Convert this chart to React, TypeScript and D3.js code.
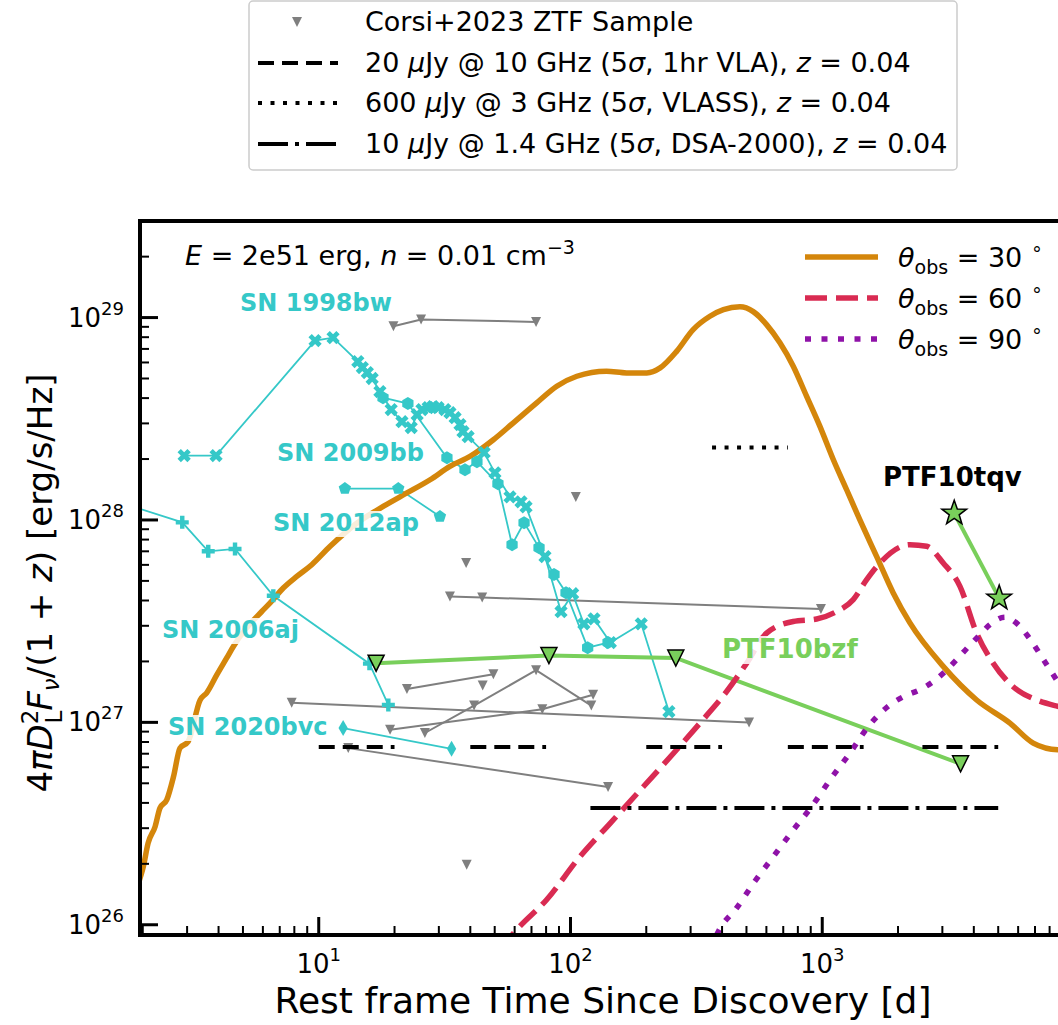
import { useEffect, useRef } from 'react';
import * as d3 from 'd3';

type Pt = [number, number];

const width = 1058;
const height = 1025;

// Corsi+2023 ZTF sample, one array per source: [rest-frame days, L_nu]
const ztfSample: Pt[][] = [
  [[19.8, 9.06e28], [25.5, 9.77e28], [73.0, 9.52e28]],
  [[105, 1.3e28]],
  [[38.5, 6.13e27]],
  [[33.2, 4.19e27], [44.6, 4.14e27], [988, 3.63e27]],
  [[22.4, 1.46e27], [49.4, 1.73e27]],
  [[44.8, 1.52e27]],
  [[26.4, 8.86e26], [41.4, 1.21e27], [73.0, 1.81e27], [121, 1.21e27]],
  [[19.2, 9.19e26], [77.3, 1.16e27], [123, 1.37e27]],
  [[7.81, 1.25e27], [512, 9.99e26]],
  [[13.1, 7.46e26], [141, 4.79e26]],
  [[38.7, 1.98e26]],
];

const sn1998bw: Pt[] = [
  [2.92, 2.08e28], [3.91, 2.08e28], [9.67, 7.7e28], [11.4, 7.96e28], [14.3, 6.06e28],
  [14.9, 5.66e28], [15.6, 5.35e28], [16.3, 5.0e28], [17.5, 4.31e28], [19.4, 3.51e28],
  [21.4, 3.06e28], [23.3, 2.86e28], [24.6, 3.31e28], [25.7, 3.51e28], [27.2, 3.59e28],
  [28.4, 3.63e28], [29.8, 3.59e28], [31.7, 3.51e28], [33.2, 3.39e28], [34.8, 3.2e28],
  [36.4, 2.96e28], [37.4, 2.73e28], [39.2, 2.58e28], [45.4, 2.15e28], [50.1, 1.71e28],
  [57.5, 1.3e28], [63.6, 1.23e28], [66.6, 1.16e28], [79.2, 6.59e27], [91.7, 3.52e27],
  [102, 4.32e27], [113, 3.07e27], [124, 3.25e27], [144, 2.48e27], [191, 3.07e27],
  [246, 1.13e27],
];

const sn2009bb: Pt[] = [
  [18.0, 4.02e28], [22.6, 3.76e28], [32.3, 2.03e28], [38.1, 1.77e28], [42.5, 1.94e28],
  [51.5, 1.51e28], [58.6, 7.55e27], [65.4, 9.7e27], [75.0, 7.3e27], [86.0, 5.37e27],
  [96.0, 4.37e27], [117, 2.34e27], [141, 2.48e27],
];

const sn2012ap: Pt[] = [[12.7, 1.43e28], [20.7, 1.43e28], [30.3, 1.04e28]];

const sn2006aj: Pt[] = [
  [1.41, 1.29e28], [2.87, 9.73e27], [3.64, 7.0e27], [4.65, 7.19e27], [6.6, 4.22e27],
  [15.9, 1.95e27], [18.9, 1.22e27],
];

const sn2020bvc: Pt[] = [[12.5, 9.37e26], [33.7, 7.4e26]];

const ptf10bzf: Pt[] = [[16.9, 1.96e27], [82.1, 2.14e27], [262, 2.08e27], [3544, 6.24e26]];
const ptf10tqv: Pt[] = [[3344, 1.08e28], [5045, 4.11e27]];

// off-axis afterglow models, E = 2e51 erg, n = 0.01 cm^-3
const theta30: Pt[] = [
  [1.91, 1.57e26], [2.01, 1.94e26], [2.1, 2.53e26], [2.24, 3.06e26], [2.34, 3.77e26],
  [2.49, 4.14e26], [2.65, 5.4e26], [2.81, 7.46e26], [3.03, 8.04e26], [3.38, 1.29e27],
  [3.59, 1.4e27], [3.94, 1.72e27], [4.31, 2.08e27], [4.58, 2.37e27], [5.1, 2.87e27],
  [5.94, 3.53e27], [6.41, 3.89e27], [7.23, 4.61e27], [8.18, 5.26e27], [9.38, 6.01e27],
  [11.1, 7.41e27], [14.2, 9.66e27], [18.1, 1.17e28], [22.4, 1.36e28], [27.7, 1.58e28],
  [33.2, 1.84e28], [39.9, 2.06e28], [49.4, 2.49e28], [59.3, 3.02e28], [73.4, 3.79e28],
  [88.2, 4.58e28], [106, 5.13e28], [139, 5.43e28], [167, 5.33e28], [201, 5.33e28],
  [227, 5.64e28], [264, 6.81e28], [307, 8.72e28], [358, 1.015e29], [405, 1.095e29],
  [471, 1.13e29], [532, 1.07e29], [601, 9.23e28], [679, 7.5e28], [767, 5.75e28],
  [867, 4.08e28], [979, 2.9e28], [1106, 1.99e28], [1250, 1.41e28], [1411, 1.0e28],
  [1644, 6.61e27], [1914, 4.36e27], [2230, 3.1e27], [3024, 1.89e27], [4105, 1.29e27],
  [5566, 9.92e26], [6887, 7.9e26], [8630, 7.32e26], [10000, 7.3e26],
];

const theta60: Pt[] = [
  [52.5, 7.5e25], [61.1, 9.44e25], [80.4, 1.33e26], [109, 2.17e26], [144, 3.18e26],
  [195, 4.82e26], [264, 7.32e26], [327, 9.92e26], [417, 1.42e27], [501, 1.96e27],
  [601, 2.76e27], [767, 3.15e27], [950, 3.24e27], [1141, 3.53e27], [1328, 4.04e27],
  [1501, 5.07e27], [1695, 6.13e27], [2230, 7.55e27], [2598, 7.41e27], [3024, 6.13e27],
  [3524, 4.7e27], [4105, 2.76e27], [4777, 1.96e27], [5734, 1.5e27], [7105, 1.29e27],
  [8630, 1.2e27], [10000, 1.15e27],
];

const theta90: Pt[] = [
  [358, 7.5e25], [390, 9.44e25], [457, 1.21e26], [540, 1.64e26], [639, 2.17e26],
  [767, 2.94e26], [908, 3.84e26], [1080, 5.25e26], [1288, 7.05e26], [1523, 9.54e26],
  [1874, 1.23e27], [2130, 1.35e27], [2443, 1.45e27], [2759, 1.59e27], [3071, 1.78e27],
  [3418, 2.04e27], [3766, 2.33e27], [4229, 2.71e27], [4634, 3.04e27], [5317, 3.31e27],
  [6003, 3.04e27], [6640, 2.61e27], [7783, 1.93e27], [8790, 1.53e27],
];

// 5-sigma detection limits at z = 0.04
const vlaLimit = 7.55e26;
const vlaWindows: Pt[] = [[10, 20], [40, 80], [200, 400], [730, 1460], [2500, 5000]];
const vlassLimit = 2.28e28;
const vlassWindow: Pt = [365, 730];
const dsaLimit = 3.77e26;
const dsaWindow: Pt = [120, 5000];

const xMajor = [10, 100, 1000];
const yMajor = [1e26, 1e27, 1e28, 1e29];

const C_ORANGE = '#d4860b';
const C_RED = '#d92b52';
const C_PURPLE = '#8f12a8';
const C_CYAN = '#35c8c8';
const C_GREEN = '#79cf5b';
const C_GRAY = '#7f7f7f';
const FONT = 'DejaVu Sans, sans-serif';

type Marker = 'tri' | 'x' | 'plus' | 'hex' | 'pent' | 'thin' | 'star';

function polygon(pts: Pt[]) {
  return 'M' + pts.map(p => `${p[0].toFixed(2)},${p[1].toFixed(2)}`).join('L') + 'Z';
}

function markerPath(kind: Marker, r: number): string {
  if (kind === 'tri') return polygon([[-r, -r], [r, -r], [0, r]]);
  if (kind === 'thin') return polygon([[0, -r], [r * 0.58, 0], [0, r], [-r * 0.58, 0]]);
  if (kind === 'hex' || kind === 'pent') {
    const n = kind === 'hex' ? 6 : 5;
    return polygon(d3.range(n).map(i => {
      const a = -Math.PI / 2 + (i * 2 * Math.PI) / n;
      return [r * Math.cos(a), r * Math.sin(a)] as Pt;
    }));
  }
  if (kind === 'star') {
    return polygon(d3.range(10).map(i => {
      const a = -Math.PI / 2 + (i * Math.PI) / 5;
      const rr = i % 2 === 0 ? r : r * 0.4;
      return [rr * Math.cos(a), rr * Math.sin(a)] as Pt;
    }));
  }
  // plus / x: filled cross
  const a = r * 0.34;
  const base: Pt[] = [
    [a, r], [a, a], [r, a], [r, -a], [a, -a], [a, -r],
    [-a, -r], [-a, -a], [-r, -a], [-r, a], [-a, a], [-a, r],
  ];
  if (kind === 'plus') return polygon(base);
  const c = Math.SQRT1_2;
  return polygon(base.map(([px, py]) => [px * c - py * c, px * c + py * c] as Pt));
}

export default function App() {
  const svgRef = useRef<SVGSVGElement>(null);

  const x = d3.scaleLog().domain([1.95, 1e4]).range([140, 1074]);
  const y = d3.scaleLog().domain([8.9e25, 3.0e29]).range([935, 221]);
  const line = d3.line<Pt>().x(d => x(d[0])).y(d => y(d[1]));
  const smooth = d3.line<Pt>().x(d => x(d[0])).y(d => y(d[1])).curve(d3.curveMonotoneX);

  const xMinor: number[] = [];
  [1, 10, 100, 1000].forEach(dec => d3.range(2, 10).forEach(k => {
    const v = k * dec;
    if (v > 1.95 && v < 1e4) xMinor.push(v);
  }));
  const yMinor: number[] = [];
  [1e25, 1e26, 1e27, 1e28, 1e29].forEach(dec => d3.range(2, 10).forEach(k => {
    const v = k * dec;
    if (v > 8.9e25 && v < 3.0e29) yMinor.push(v);
  }));

  // translucent white boxes behind the annotation labels
  useEffect(() => {
    if (!svgRef.current) return;
    const svg = d3.select(svgRef.current);
    svg.selectAll('rect.lblbox').remove();
    svg.selectAll<SVGTextElement, unknown>('text.lbl').each(function () {
      const b = this.getBBox();
      d3.select(this.parentNode as SVGGElement)
        .insert('rect', () => this)
        .attr('class', 'lblbox')
        .attr('x', b.x - 3).attr('y', b.y + 2)
        .attr('width', b.width + 6).attr('height', b.height - 2)
        .attr('fill', 'white').attr('opacity', 0.85);
    });
  }, []);

  const sn: { name: string; data: Pt[]; marker: Marker; r: number }[] = [
    { name: 'SN 1998bw', data: sn1998bw, marker: 'x', r: 7 },
    { name: 'SN 2009bb', data: sn2009bb, marker: 'hex', r: 6.5 },
    { name: 'SN 2012ap', data: sn2012ap, marker: 'pent', r: 6.5 },
    { name: 'SN 2006aj', data: sn2006aj, marker: 'plus', r: 6.5 },
    { name: 'SN 2020bvc', data: sn2020bvc, marker: 'thin', r: 8 },
  ];

  const labels: { text: string; px: number; py: number; color: string; size: number }[] = [
    { text: 'SN 1998bw', px: 240, py: 311, color: C_CYAN, size: 24 },
    { text: 'SN 2009bb', px: 277, py: 461, color: C_CYAN, size: 24 },
    { text: 'SN 2012ap', px: 273, py: 531, color: C_CYAN, size: 24 },
    { text: 'SN 2006aj', px: 162, py: 638, color: C_CYAN, size: 24 },
    { text: 'SN 2020bvc', px: 168, py: 735, color: C_CYAN, size: 24 },
    { text: 'PTF10bzf', px: 722, py: 658, color: C_GREEN, size: 26 },
    { text: 'PTF10tqv', px: 883, py: 486, color: '#000', size: 26 },
  ];

  const models = [
    { data: theta30, color: C_ORANGE, dash: undefined as string | undefined, angle: '30' },
    { data: theta60, color: C_RED, dash: '22,9', angle: '60' },
    { data: theta90, color: C_PURPLE, dash: '6,10.5', angle: '90' },
  ];

  const supSize = 18;

  return (
    <svg ref={svgRef} width={width} height={height}
      style={{ position: 'absolute', left: 0, top: 0, background: 'white' }}
      fontFamily={FONT}>
      <defs>
        <clipPath id="plotclip">
          <rect x={140} y={221} width={934} height={714} />
        </clipPath>
      </defs>

      <g clipPath="url(#plotclip)">
        {/* ZTF sample */}
        {ztfSample.map((g, i) => (
          <path key={'zl' + i} d={line(g) ?? ''} fill="none" stroke={C_GRAY} strokeWidth={2} />
        ))}
        {ztfSample.flat().map((p, i) => (
          <path key={'zm' + i} d={markerPath('tri', 5)} transform={`translate(${x(p[0])},${y(p[1])})`} fill={C_GRAY} />
        ))}

        {/* literature SNe lines */}
        {sn.map(s => (
          <path key={s.name + 'l'} d={line(s.data) ?? ''} fill="none" stroke={C_CYAN} strokeWidth={1.8} />
        ))}

        {/* PTF lines */}
        <path d={line(ptf10bzf) ?? ''} fill="none" stroke={C_GREEN} strokeWidth={4} />
        <path d={line(ptf10tqv) ?? ''} fill="none" stroke={C_GREEN} strokeWidth={4} />

        {/* models */}
        {models.map(m => (
          <path key={m.angle} d={smooth(m.data) ?? ''} fill="none" stroke={m.color}
            strokeWidth={5.5} strokeLinejoin="round" strokeDasharray={m.dash} />
        ))}

        {/* SN markers */}
        {sn.map(s => s.data.map((p, i) => (
          <path key={s.name + i} d={markerPath(s.marker, s.r)} transform={`translate(${x(p[0])},${y(p[1])})`} fill={C_CYAN} />
        )))}
        {ptf10bzf.map((p, i) => (
          <path key={'bzf' + i} d={markerPath('tri', 8)} transform={`translate(${x(p[0])},${y(p[1])})`}
            fill={C_GREEN} stroke="#000" strokeWidth={1.5} />
        ))}
        {ptf10tqv.map((p, i) => (
          <path key={'tqv' + i} d={markerPath('star', 13)} transform={`translate(${x(p[0])},${y(p[1])})`}
            fill={C_GREEN} stroke="#000" strokeWidth={1.5} />
        ))}

        {/* detection limits */}
        {vlaWindows.map((w, i) => (
          <line key={'vla' + i} x1={x(w[0])} x2={x(w[1])} y1={y(vlaLimit)} y2={y(vlaLimit)}
            stroke="#000" strokeWidth={4} strokeDasharray="16,8" />
        ))}
        <line x1={x(vlassWindow[0])} x2={x(vlassWindow[1])} y1={y(vlassLimit)} y2={y(vlassLimit)}
          stroke="#000" strokeWidth={4} strokeDasharray="4,8.5" />
        <line x1={x(dsaWindow[0])} x2={x(dsaWindow[1])} y1={y(dsaLimit)} y2={y(dsaLimit)}
          stroke="#000" strokeWidth={4} strokeDasharray="30,7,4,7" />

        {/* labels */}
        <g>
          {labels.map(l => (
            <text key={l.text} className="lbl" x={l.px} y={l.py} fill={l.color} fontSize={l.size} fontWeight="bold">
              {l.text}
            </text>
          ))}
        </g>
      </g>

      {/* axes frame */}
      <line x1={140} x2={1074} y1={221} y2={221} stroke="#000" strokeWidth={4} />
      <line x1={140} x2={140} y1={219} y2={937} stroke="#000" strokeWidth={4} />
      <line x1={138} x2={1074} y1={935} y2={935} stroke="#000" strokeWidth={4} />

      {/* ticks */}
      {xMajor.map(v => (
        <line key={'xt' + v} x1={x(v)} x2={x(v)} y1={935} y2={917} stroke="#000" strokeWidth={3} />
      ))}
      {xMinor.map(v => (
        <line key={'xm' + v} x1={x(v)} x2={x(v)} y1={935} y2={926} stroke="#000" strokeWidth={2} />
      ))}
      {yMajor.map(v => (
        <line key={'yt' + v} x1={140} x2={158} y1={y(v)} y2={y(v)} stroke="#000" strokeWidth={3} />
      ))}
      {yMinor.map(v => (
        <line key={'ym' + v} x1={140} x2={149} y1={y(v)} y2={y(v)} stroke="#000" strokeWidth={2} />
      ))}

      {/* tick labels */}
      {xMajor.map(v => (
        <text key={'xl' + v} x={x(v)} y={973} textAnchor="middle" fontSize={26}>
          10<tspan fontSize={supSize} dy={-12}>{Math.round(Math.log10(v))}</tspan>
        </text>
      ))}
      {yMajor.map(v => (
        <text key={'yl' + v} x={124} y={y(v) + 9} textAnchor="end" fontSize={26}>
          10<tspan fontSize={supSize} dy={-12}>{Math.round(Math.log10(v))}</tspan>
        </text>
      ))}

      {/* axis titles */}
      <text x={603} y={1013} textAnchor="middle" fontSize={36}>Rest frame Time Since Discovery [d]</text>
      <text transform="translate(52,583) rotate(-90)" textAnchor="middle" fontSize={34}>
        4<tspan fontStyle="italic">πD</tspan>
        <tspan fontSize={23} dy={-14}>2</tspan>
        <tspan fontSize={23} dx={-14} dy={24}>L</tspan>
        <tspan fontStyle="italic" dy={-10}>F</tspan>
        <tspan fontStyle="italic" fontSize={23} dy={7}>ν</tspan>
        <tspan dy={-7}>/(1 + </tspan>
        <tspan fontStyle="italic">z</tspan>
        <tspan>) [erg/s/Hz]</tspan>
      </text>

      {/* model annotation */}
      <text x={185} y={265} fontSize={27}>
        <tspan fontStyle="italic">E</tspan> = 2e51 erg, <tspan fontStyle="italic">n</tspan> = 0.01 cm
        <tspan fontSize={19} dy={-11}>−3</tspan>
      </text>

      {/* model legend */}
      {models.map((m, i) => {
        const ly = 257 + i * 41;
        return (
          <g key={'ml' + m.angle}>
            <line x1={805} x2={878} y1={ly} y2={ly} stroke={m.color} strokeWidth={5.5} strokeDasharray={m.dash} />
            <text x={898} y={ly + 10} fontSize={27}>
              <tspan fontStyle="italic">θ</tspan>
              <tspan fontSize={19} dy={7}>obs</tspan>
              <tspan dy={-7}> = {m.angle} </tspan>
              <tspan fontSize={19} dy={-12}>∘</tspan>
            </text>
          </g>
        );
      })}

      {/* top legend */}
      <rect x={249} y={1} width={708} height={169} rx={4} fill="white" stroke="#cccccc" strokeWidth={1.5} />
      <path d={markerPath('tri', 5)} transform="translate(297,22)" fill={C_GRAY} />
      <text x={365} y={31} fontSize={27}>Corsi+2023 ZTF Sample</text>
      <line x1={258} x2={338} y1={63} y2={63} stroke="#000" strokeWidth={4} strokeDasharray="16,8" />
      <text x={365} y={72} fontSize={27}>
        20 <tspan fontStyle="italic">μ</tspan>Jy @ 10 GHz (5<tspan fontStyle="italic">σ</tspan>, 1hr VLA), <tspan fontStyle="italic">z</tspan> = 0.04
      </text>
      <line x1={258} x2={338} y1={103} y2={103} stroke="#000" strokeWidth={4} strokeDasharray="4,8.5" />
      <text x={365} y={112} fontSize={27}>
        600 <tspan fontStyle="italic">μ</tspan>Jy @ 3 GHz (5<tspan fontStyle="italic">σ</tspan>, VLASS), <tspan fontStyle="italic">z</tspan> = 0.04
      </text>
      <line x1={258} x2={338} y1={144} y2={144} stroke="#000" strokeWidth={4} strokeDasharray="30,7,4,7" />
      <text x={365} y={153} fontSize={27}>
        10 <tspan fontStyle="italic">μ</tspan>Jy @ 1.4 GHz (5<tspan fontStyle="italic">σ</tspan>, DSA-2000), <tspan fontStyle="italic">z</tspan> = 0.04
      </text>
    </svg>
  );
}
